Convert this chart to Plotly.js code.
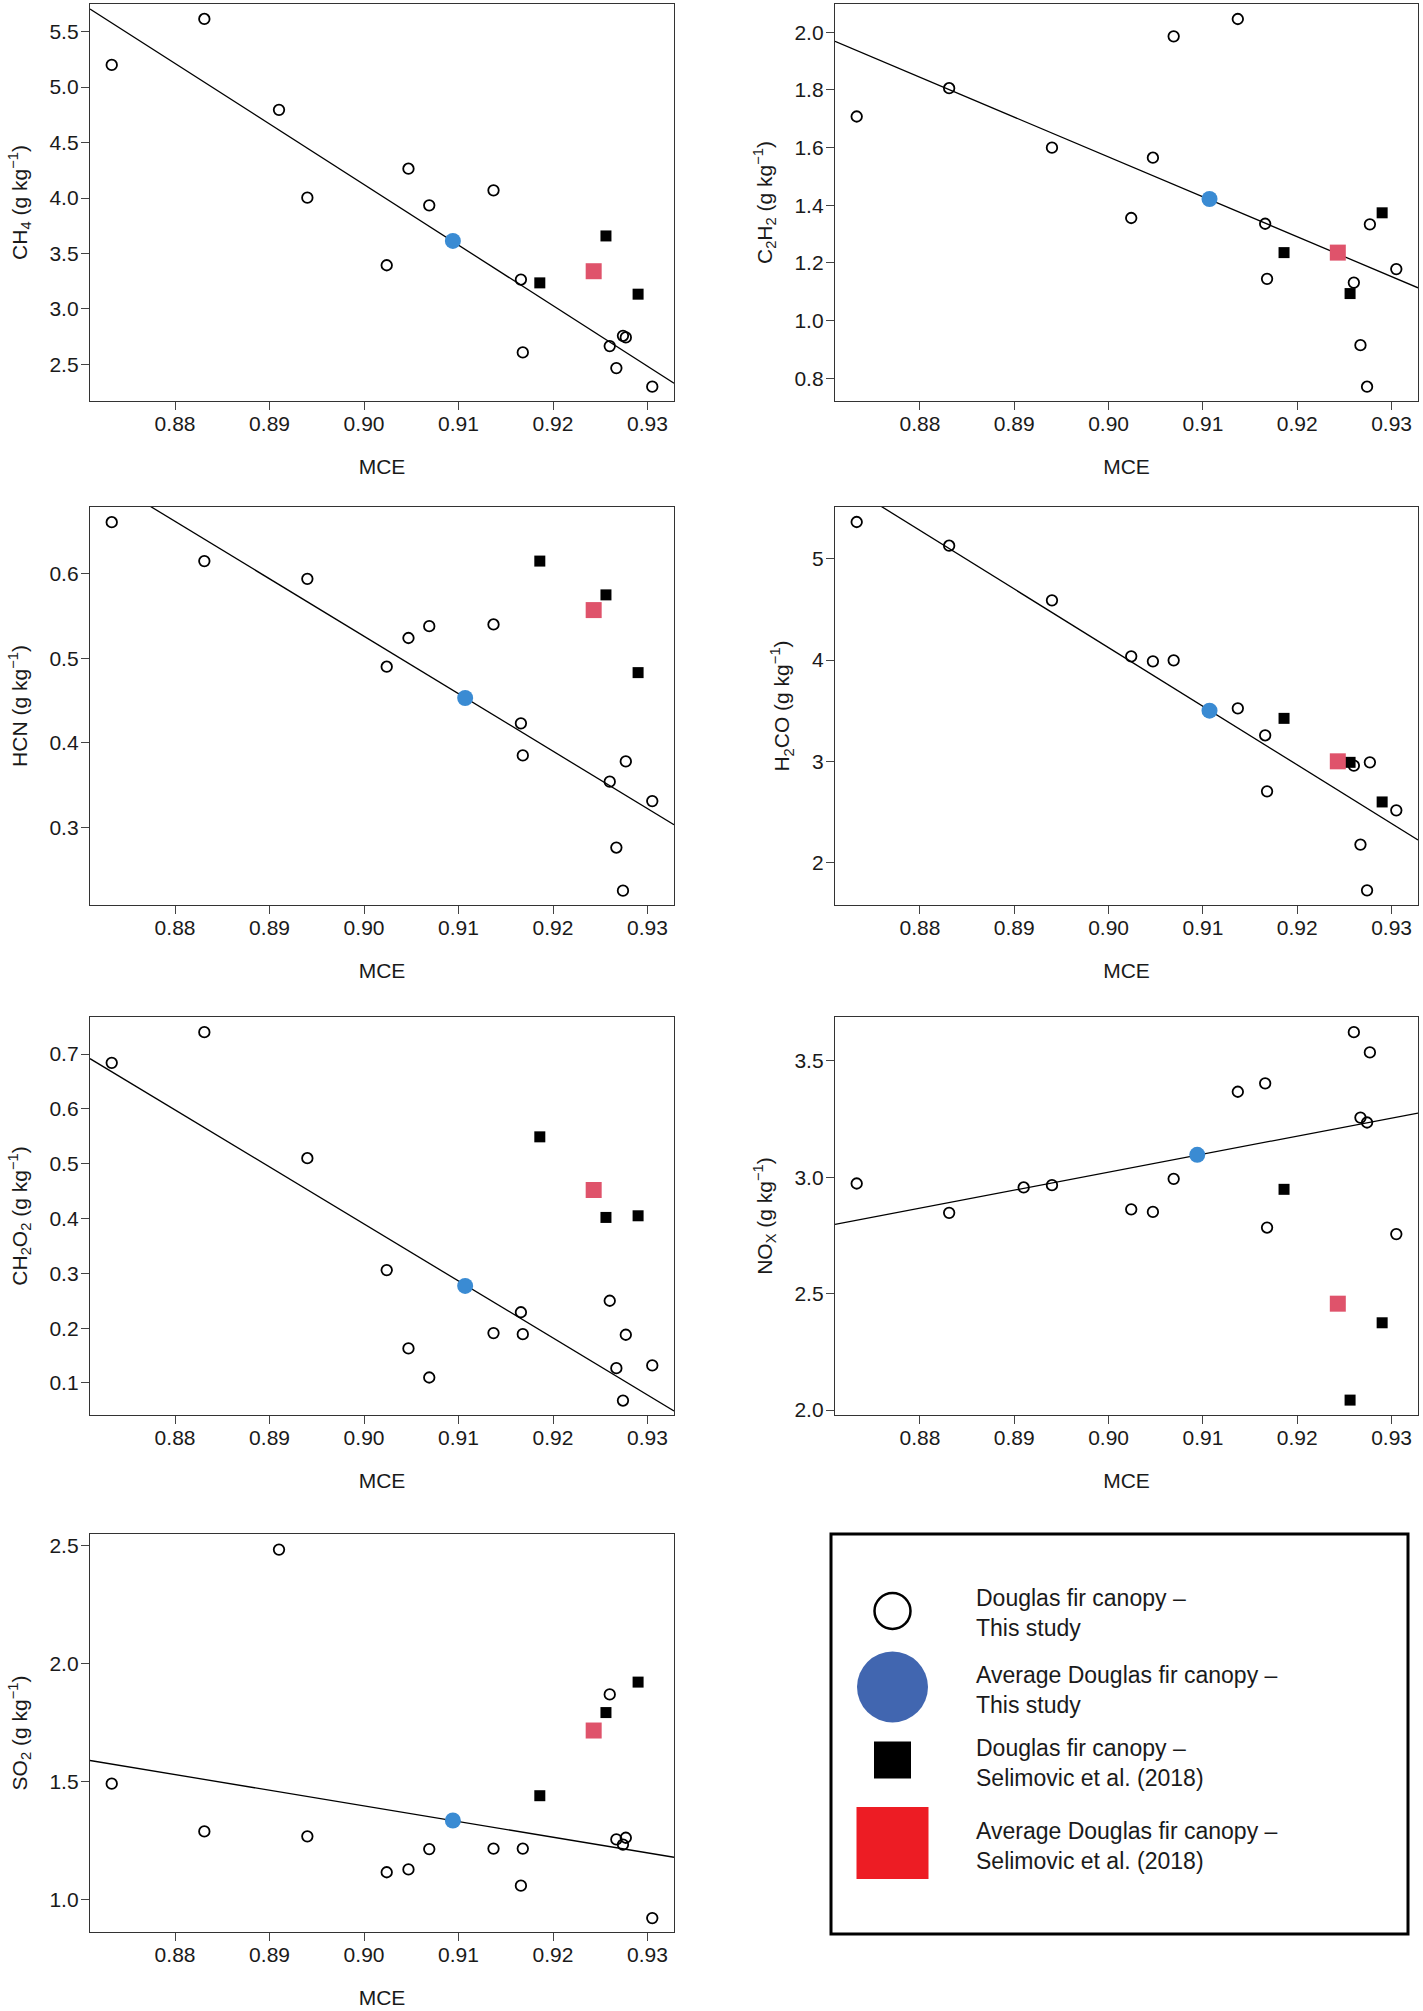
<!DOCTYPE html>
<html>
<head>
<meta charset="utf-8">
<script src="https://cdn.plot.ly/plotly-3.0.1.min.js"></script>
<style>
	body { margin: 0; background: #fff; }
	#plot { width: 1423px; height: 2011px; }
</style>
</head>
<body>
<div id="plot"></div>
<script>
	/* Data: MCE of the canopy burns (this study) */
	var mce = [0.8733, 0.8831, 0.8910, 0.8940, 0.9024, 0.9047, 0.9069, 0.9137, 0.9166, 0.9168, 0.9260, 0.9267, 0.9274, 0.9277, 0.9305];

	// emission factors (g/kg), null where not measured
	var ch4   = [5.20, 5.614, 4.795, 4.003, 3.394, 4.264, 3.934, 4.069, 3.265, 2.608, 2.665, 2.467, 2.758, 2.743, 2.299];
	var c2h2  = [1.708, 1.806, null, 1.600, 1.356, 1.565, 1.986, 2.046, 1.336, 1.145, 1.132, 0.915, 0.771, 1.334, 1.179];
	var hcn   = [0.661, 0.615, null, 0.594, 0.490, 0.524, 0.538, 0.540, 0.423, 0.385, 0.354, 0.276, 0.225, 0.378, 0.331];
	var h2co  = [5.362, 5.128, null, 4.589, 4.036, 3.987, 3.997, 3.523, 3.257, 2.704, 2.957, 2.178, 1.727, 2.990, 2.516];
	var ch2o2 = [0.684, 0.740, null, 0.510, 0.306, 0.163, 0.110, 0.191, 0.229, 0.189, 0.250, 0.127, 0.068, 0.188, 0.132];
	var nox   = [2.973, 2.847, 2.956, 2.966, 2.862, 2.851, 2.993, 3.367, 3.403, 2.784, 3.623, 3.256, 3.235, 3.536, 2.756];
	var so2   = [1.492, 1.290, 2.483, 1.269, 1.117, 1.129, 1.215, 1.217, 1.060, 1.217, 1.870, 1.256, 1.234, 1.263, 0.923];

	/* Selimovic et al. (2018) */
	var selMce   = [0.9186, 0.9256, 0.9290];
	var selCh4   = [3.235, 3.658, 3.133];
	var selC2h2  = [1.236, 1.094, 1.374];
	var selHcn   = [0.615, 0.575, 0.483];
	var selH2co  = [3.424, 2.990, 2.599];
	var selCh2o2 = [0.549, 0.402, 0.405];
	var selNox   = [2.948, 2.043, 2.375];
	var selSo2   = [1.441, 1.793, 1.922];

	/* Averages, in panel order */
	var avgMce = [0.9094, 0.9107, 0.9107, 0.9107, 0.9107, 0.9094, 0.9094];
	var avgEf  = [3.613, 1.422, 0.453, 3.500, 0.277, 3.096, 1.336];
	var avgSelMce = 0.9243;
	var avgSelEf  = [3.340, 1.236, 0.557, 3.000, 0.452, 2.457, 1.717];

	/* Linear fits y = a + b*MCE */
	var fitA = [53.261, 14.010, 6.646, 56.187, 9.750, -3.936, 7.364];
	var fitB = [-54.60, -13.825, -6.80, -57.85, -10.40, 7.731, -6.629];

	var yTitles = [
		'CH<sub>4</sub> (g kg<sup>\u22121</sup>)',
		'C<sub>2</sub>H<sub>2</sub> (g kg<sup>\u22121</sup>)',
		'HCN (g kg<sup>\u22121</sup>)',
		'H<sub>2</sub>CO (g kg<sup>\u22121</sup>)',
		'CH<sub>2</sub>O<sub>2</sub> (g kg<sup>\u22121</sup>)',
		'NO<sub>X</sub> (g kg<sup>\u22121</sup>)',
		'SO<sub>2</sub> (g kg<sup>\u22121</sup>)'
	];
	var legendLabels = [
		'Douglas fir canopy \u2013<br>This study',
		'Average Douglas fir canopy \u2013<br>This study',
		'Douglas fir canopy \u2013<br>Selimovic et al. (2018)',
		'Average Douglas fir canopy \u2013<br>Selimovic et al. (2018)'
	];

	var thisStudy = [ch4, c2h2, hcn, h2co, ch2o2, nox, so2];
	var selimovic = [selCh4, selC2h2, selHcn, selH2co, selCh2o2, selNox, selSo2];

	/* Layout helpers */
	var W = 1423, H = 2011;
	var xRange = [0.871, 0.9328];
	var yRanges = [[2.17, 5.749], [0.7215, 2.098], [0.208, 0.679], [1.582, 5.51], [0.0416, 0.7676], [1.979, 3.688], [0.864, 2.549]];
	var yDticks = [0.5, 0.2, 0.1, 1, 0.1, 0.5, 0.5];
	var yFormats = ['.1f', '.1f', '.1f', 'd', '.1f', '.1f', '.1f'];
	var cols = [[90, 674], [835, 1418]];
	var rows = [[4, 401], [507, 905], [1017, 1415], [1534, 1932]];

	var font = 'Liberation Sans, Arial, sans-serif';
	var ink = '#1a1a1a';

	function px(x) { return x / W; }
	function py(y) { return 1 - y / H; }

	var data = [];
	var layout = {
		width: W, height: H,
		margin: {l: 0, r: 0, t: 0, b: 0},
		paper_bgcolor: '#fff', plot_bgcolor: '#fff',
		showlegend: false,
		font: {family: font, color: ink, size: 21},
		shapes: [], annotations: []
	};

	thisStudy.forEach(function(ef, i) {
		var s = i === 0 ? '' : String(i + 1);
		var col = cols[i % 2], row = rows[Math.floor(i / 2)];
		var xa = 'x' + s, ya = 'y' + s;

		// regression line across the full axis
		data.push({
			x: xRange,
			y: xRange.map(function(v) { return fitA[i] + fitB[i] * v; }),
			xaxis: xa, yaxis: ya, mode: 'lines', hoverinfo: 'skip',
			line: {color: '#000', width: 1.3}
		});
		data.push({
			x: mce, y: ef, xaxis: xa, yaxis: ya, mode: 'markers',
			marker: {symbol: 'circle-open', size: 10.5, color: '#000', line: {width: 1.8}}
		});
		data.push({
			x: selMce, y: selimovic[i], xaxis: xa, yaxis: ya, mode: 'markers',
			marker: {symbol: 'square', size: 11, color: '#000'}
		});
		data.push({
			x: [avgSelMce], y: [avgSelEf[i]], xaxis: xa, yaxis: ya, mode: 'markers',
			marker: {symbol: 'square', size: 16, color: '#df536b'}
		});
		data.push({
			x: [avgMce[i]], y: [avgEf[i]], xaxis: xa, yaxis: ya, mode: 'markers',
			marker: {symbol: 'circle', size: 16, color: '#3a8bd3'}
		});

		var axisBase = {
			showline: true, mirror: true, linecolor: '#333', linewidth: 1.3,
			ticks: 'outside', ticklen: 8, tickwidth: 1.3, tickcolor: '#444',
			showgrid: false, zeroline: false,
			tickfont: {family: font, size: 21, color: ink}
		};
		layout['xaxis' + s] = Object.assign({}, axisBase, {
			domain: [px(col[0]), px(col[1])], anchor: ya,
			range: xRange, tick0: 0.88, dtick: 0.01, tickformat: '.2f',
			ticklabelstandoff: -4,
			title: {text: 'MCE', font: {family: font, size: 21, color: ink}, standoff: 24}
		});
		layout['yaxis' + s] = Object.assign({}, axisBase, {
			domain: [py(row[1]), py(row[0])], anchor: xa,
			range: yRanges[i], tick0: 0, dtick: yDticks[i], tickformat: yFormats[i],
			ticklabelstandoff: -2,
			title: {text: yTitles[i], font: {family: font, size: 21, color: ink}, standoff: 16}
		});
	});

	/* Hand-built legend box in the empty bottom-right slot */
	var box = {x0: 831, x1: 1408, y0: 1534, y1: 1934};
	layout.shapes.push({type: 'rect', xref: 'paper', yref: 'paper',
		x0: px(box.x0), x1: px(box.x1), y0: py(box.y1), y1: py(box.y0),
		line: {color: '#000', width: 3}, fillcolor: 'rgba(0,0,0,0)'});

	var symX = 892.5;
	var legendSymbols = [
		{type: 'circle', cy: 1611, d: 36, fill: 'rgba(0,0,0,0)', line: {color: '#000', width: 2.5}},
		{type: 'circle', cy: 1687, d: 71, fill: '#4166b0', line: {width: 0}},
		{type: 'rect', cy: 1760, d: 37, fill: '#000', line: {width: 0}},
		{type: 'rect', cy: 1843, d: 72, fill: '#ed1c24', line: {width: 0}}
	];
	var legendTextY = [1613, 1690, 1763, 1846];

	legendSymbols.forEach(function(sym, k) {
		layout.shapes.push({type: sym.type, xref: 'paper', yref: 'paper',
			x0: px(symX - sym.d / 2), x1: px(symX + sym.d / 2),
			y0: py(sym.cy + sym.d / 2), y1: py(sym.cy - sym.d / 2),
			fillcolor: sym.fill, line: sym.line});
		layout.annotations.push({xref: 'paper', yref: 'paper',
			x: px(974), y: py(legendTextY[k]), xanchor: 'left', yanchor: 'middle',
			align: 'left', showarrow: false, text: legendLabels[k],
			font: {family: font, size: 23, color: ink}});
	});

	Plotly.newPlot('plot', data, layout, {displayModeBar: false});
</script>
</body>
</html>
